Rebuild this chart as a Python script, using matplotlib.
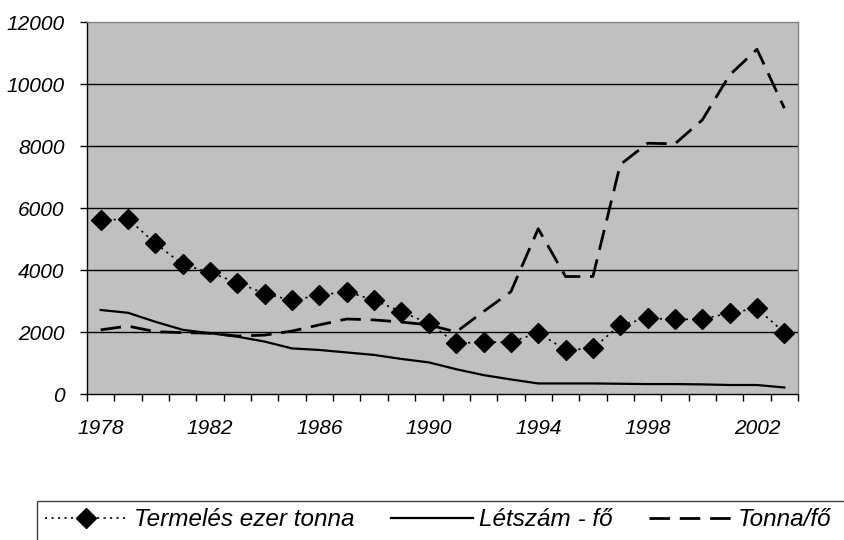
import numpy as np
import matplotlib.pyplot as plt
from matplotlib.patches import Rectangle

years = np.arange(1978, 2004)
termeles = [5600, 5650, 4860, 4180, 3920, 3590, 3240, 3020, 3190, 3300, 3030, 2650, 2280,
            1640, 1670, 1670, 1980, 1420, 1470, 2230, 2440, 2410, 2410, 2620, 2760, 1980]
letszam = [2710, 2620, 2330, 2070, 1960, 1850, 1690, 1470, 1420, 1340, 1260, 1130, 1020,
           800, 610, 470, 340, 340, 340, 330, 320, 320, 310, 290, 290, 210]
tonna_fo = [2070, 2190, 2010, 1980, 1960, 1870, 1900, 2030, 2230, 2420, 2390, 2320, 2230,
            2000, 2660, 3300, 5330, 3790, 3790, 7400, 8090, 8070, 8840, 10290, 11120, 9220]
year_labels = [1978, 1982, 1986, 1990, 1994, 1998, 2002]
y_ticks = [0, 2000, 4000, 6000, 8000, 10000, 12000]

font = 'Liberation Sans'
W, H = 844, 540

fig = plt.figure(figsize=(W / 100, H / 100), dpi=100)
ax = fig.add_axes([87 / W, 1 - 394 / H, (798 - 87) / W, (394 - 22) / H])
ax.set_facecolor('#c0c0c0')

# gridlines
for v in y_ticks[1:-1]:
    ax.axhline(v, color='black', lw=1, zorder=1)

ax.plot(years, termeles, color='black', lw=1.2, linestyle=(0, (1.3, 2.6)),
        marker='D', markersize=10.5, markerfacecolor='black', markeredgecolor='black',
        label='Termelés ezer tonna', zorder=3)
ax.plot(years, letszam, color='black', lw=1.6, label='Létszám - fő', zorder=3)
ax.plot(years, tonna_fo, color='black', lw=2.0, linestyle=(0, (7.4, 3.5)),
        label='Tonna/fő', zorder=3)

ax.set_xlim(1977.5, 2003.5)
ax.set_ylim(0, 12000)

ax.set_xticks(year_labels)
ax.set_xticklabels([str(y) for y in year_labels], fontfamily=font, fontstyle='italic', fontsize=15)
ax.set_xticks(np.arange(1977.5, 2004.5, 1), minor=True)
ax.tick_params(axis='x', which='major', length=0, pad=18)
ax.tick_params(axis='x', which='minor', length=5, width=1, direction='out', color='black')

ax.set_yticks(y_ticks)
ax.set_yticklabels([str(v) for v in y_ticks], fontfamily=font, fontstyle='italic', fontsize=15)
ax.tick_params(axis='y', length=5, width=1, direction='out', pad=11, color='black')

for s in ['left', 'bottom']:
    ax.spines[s].set_color('black')
    ax.spines[s].set_linewidth(1)
for s in ['top', 'right']:
    ax.spines[s].set_color('#808080')
    ax.spines[s].set_linewidth(1)

# legend box running off the bottom/right edge
fig.patches.append(Rectangle((37 / W, -0.2), 1.0, 1.2 - 500.7 / H,
                             transform=fig.transFigure, facecolor='white',
                             edgecolor='#404040', lw=1, zorder=0))
leg = fig.legend(loc='center left', bbox_to_anchor=(45 / W, 1 - 520 / H),
                 ncol=3, frameon=False, borderpad=0, borderaxespad=0,
                 handlelength=3.4, handletextpad=0.25, columnspacing=1.5,
                 prop={'family': font, 'style': 'italic', 'size': 17.5})

fig.savefig('out.png', dpi=100)
